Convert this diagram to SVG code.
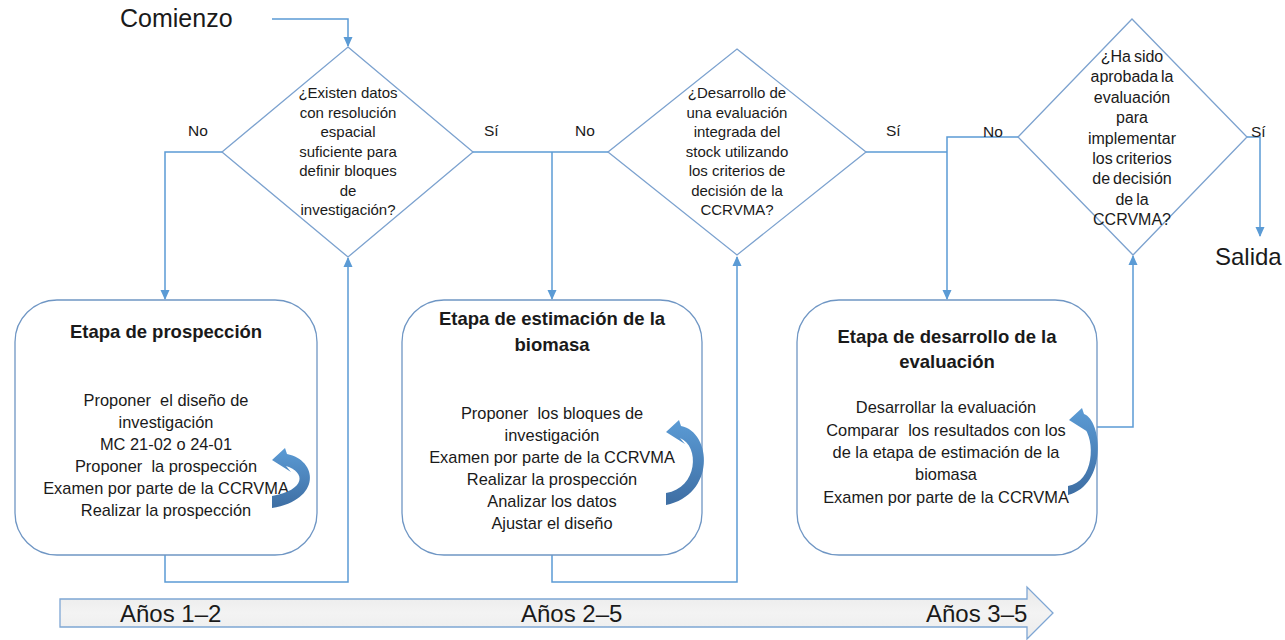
<svg xmlns="http://www.w3.org/2000/svg" width="1285" height="640" viewBox="0 0 1285 640">
<style>
text{font-family:"Liberation Sans",Arial,sans-serif;fill:#1a1a1a;text-anchor:middle}
.big{font-size:25px;text-anchor:start}
.dt{font-size:15px}
.dt3{font-size:16px;word-spacing:-1.5px}
.lbl{font-size:15.5px;text-anchor:start}
.ttl{font-size:18.5px;font-weight:bold}
.item{font-size:16.4px;white-space:pre}
.yr{font-size:24px;text-anchor:start}
.dia{fill:#fff;stroke:#7ca2cf;stroke-width:1.3}
.box{fill:#fff;stroke:#6f96c4;stroke-width:1.3}
.con{fill:none;stroke:#5b9bd5;stroke-width:1.5}
.arr{marker-end:url(#ah)}
.curl{fill:url(#cg)}
</style>
<defs>
<marker id="ah" markerUnits="userSpaceOnUse" markerWidth="10" markerHeight="10" viewBox="0 0 10 10" refX="9" refY="5" orient="auto">
<path d="M0,0.5 L10,5 L0,9.5 Z" fill="#5b9bd5"/>
</marker>
<linearGradient id="cg" x1="0" y1="0" x2="0" y2="1">
<stop offset="0" stop-color="#5b9bd5"/>
<stop offset="1" stop-color="#3e6ea3"/>
</linearGradient>
<linearGradient id="tg" x1="0" y1="0" x2="0" y2="1">
<stop offset="0" stop-color="#e9e9e9"/>
<stop offset="0.5" stop-color="#f3f3f3"/>
<stop offset="1" stop-color="#ececec"/>
</linearGradient>
</defs>

<g id="connectors">
<path class="con arr" d="M272,19 H348 V46"/>
<path class="con arr" d="M222,152 H165 V299"/>
<path class="con" d="M473,152 H608"/>
<path class="con arr" d="M552,152 V299"/>
<path class="con" d="M866,152 H947"/>
<path class="con arr" d="M1018,137 H947 V299"/>
<path class="con arr" d="M1247,137 H1260 V236"/>
<path class="con arr" d="M165,555 V582 H348 V258"/>
<path class="con arr" d="M552,555 V582 H737 V257"/>
<path class="con arr" d="M1097,427 H1133 V256"/>
</g>

<g id="start"><text class="big" x="120" y="27">Comienzo</text></g>

<g id="decision1">
<polygon class="dia" points="348,47 473,152 348,257 222,152"/>
<text class="dt" x="348" y="98">¿Existen datos</text>
<text class="dt" x="348" y="117.5">con resolución</text>
<text class="dt" x="348" y="137">espacial</text>
<text class="dt" x="348" y="156.5">suficiente para</text>
<text class="dt" x="348" y="176">definir bloques</text>
<text class="dt" x="348" y="195.5">de</text>
<text class="dt" x="348" y="215">investigación?</text>
</g>
<g id="label-no1"><text class="lbl" x="188" y="136">No</text></g>
<g id="label-si1"><text class="lbl" x="484" y="136">Sí</text></g>

<g id="decision2">
<polygon class="dia" points="737,49 866,152 737,255 608,152"/>
<text class="dt" x="737" y="98">¿Desarrollo de</text>
<text class="dt" x="737" y="117.5">una evaluación</text>
<text class="dt" x="737" y="137">integrada del</text>
<text class="dt" x="737" y="156.5">stock utilizando</text>
<text class="dt" x="737" y="176">los criterios de</text>
<text class="dt" x="737" y="195.5">decisión de la</text>
<text class="dt" x="737" y="215">CCRVMA?</text>
</g>
<g id="label-no2"><text class="lbl" x="575" y="136">No</text></g>
<g id="label-si2"><text class="lbl" x="886" y="136">Sí</text></g>

<g id="decision3">
<polygon class="dia" points="1132,19 1247,137 1133,255 1018,137"/>
<text class="dt3" x="1132" y="62">¿Ha sido</text>
<text class="dt3" x="1132" y="82.4">aprobada la</text>
<text class="dt3" x="1132" y="102.8">evaluación</text>
<text class="dt3" x="1132" y="123.2">para</text>
<text class="dt3" x="1132" y="143.6">implementar</text>
<text class="dt3" x="1132" y="164">los criterios</text>
<text class="dt3" x="1132" y="184.4">de decisión</text>
<text class="dt3" x="1132" y="204.8">de la</text>
<text class="dt3" x="1132" y="225.2">CCRVMA?</text>
</g>
<g id="label-no3"><text class="lbl" x="983" y="137">No</text></g>
<g id="label-si3"><text class="lbl" x="1251" y="137">Sí</text></g>

<g id="end"><text class="big" x="1215" y="265" style="font-size:24px">Salida</text></g>

<g id="stage1">
<rect class="box" x="15" y="300" width="302" height="255" rx="42"/>
<text class="ttl" x="166" y="338">Etapa de prospección</text>
<text class="item" x="166" y="406" xml:space="preserve">Proponer  el diseño de</text>
<text class="item" x="166" y="428">investigación</text>
<text class="item" x="166" y="450">MC 21-02 o 24-01</text>
<text class="item" x="166" y="472" xml:space="preserve">Proponer  la prospección</text>
<text class="item" x="166" y="494">Examen por parte de la CCRVMA</text>
<text class="item" x="166" y="516">Realizar la prospección</text>
<path class="curl" d="M272,460 L285,448 L287,454 C318,460 322,500 272,508 L272,496 C306,490 306,472 286,466 L291,472 Z"/>
</g>

<g id="stage2">
<rect class="box" x="402" y="300" width="300" height="255" rx="42"/>
<text class="ttl" x="552" y="325">Etapa de estimación de la</text>
<text class="ttl" x="552" y="351">biomasa</text>
<text class="item" x="552" y="419" xml:space="preserve">Proponer  los bloques de</text>
<text class="item" x="552" y="441">investigación</text>
<text class="item" x="552" y="463">Examen por parte de la CCRVMA</text>
<text class="item" x="552" y="485">Realizar la prospección</text>
<text class="item" x="552" y="507">Analizar los datos</text>
<text class="item" x="552" y="529">Ajustar el diseño</text>
<path class="curl" d="M666,432 L679,420 L681,426 C712,432 716,495 666,505 L666,493 C698,488 700,446 680,438 L685,444 Z"/>
</g>

<g id="stage3">
<rect class="box" x="797" y="300" width="300" height="255" rx="42"/>
<text class="ttl" x="947" y="343">Etapa de desarrollo de la</text>
<text class="ttl" x="947" y="368">evaluación</text>
<text class="item" x="946" y="413">Desarrollar la evaluación</text>
<text class="item" x="946" y="436" xml:space="preserve">Comparar  los resultados con los</text>
<text class="item" x="946" y="458">de la etapa de estimación de la</text>
<text class="item" x="946" y="480">biomasa</text>
<text class="item" x="946" y="503">Examen por parte de la CCRVMA</text>
<path class="curl" d="M1069,420 L1082,408 L1084,414 C1102,420 1108,485 1068,495 L1068,486 C1094,482 1096,440 1083,426 L1088,432 Z"/>
</g>

<g id="timeline">
<path d="M60,599 H1027 V587 L1053,613 L1027,639 V627 H60 Z" fill="url(#tg)" stroke="#7ea6d4" stroke-width="1.3"/>
<text class="yr" x="120" y="622">Años 1–2</text>
<text class="yr" x="521" y="622">Años 2–5</text>
<text class="yr" x="926" y="622">Años 3–5</text>
</g>
</svg>
